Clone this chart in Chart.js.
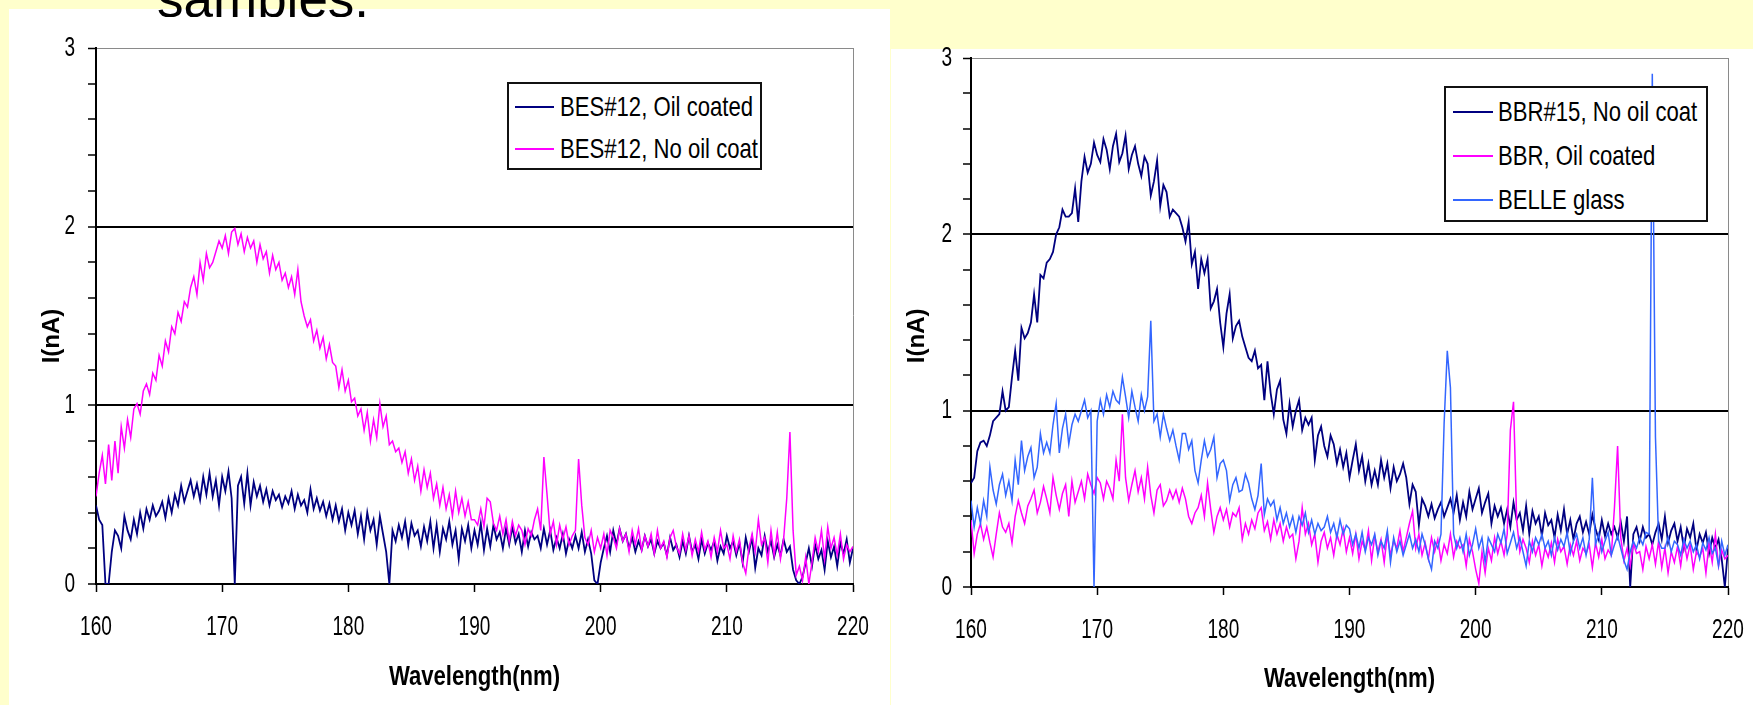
<!DOCTYPE html>
<html><head><meta charset="utf-8">
<script src="https://cdn.jsdelivr.net/npm/chart.js@4.4.1/dist/chart.umd.min.js"></script>
<style>
html,body{margin:0;padding:0;}
body{width:1753px;height:705px;overflow:hidden;background:#FFFFCC;position:relative;font-family:"Liberation Sans",Arial,sans-serif;}
.panel{position:absolute;background:#fff;}
#pL{left:9px;top:9px;width:881px;height:696px;}
#pR{left:891px;top:49px;width:862px;height:656px;}
canvas{position:absolute;}
#capWrap{position:absolute;left:0;top:0;width:900px;height:17px;overflow:hidden;z-index:5;}
#cap{position:absolute;left:157px;top:-32px;font-size:53px;line-height:61px;color:#000;white-space:nowrap;}
.legend{position:absolute;border:2px solid #111;background:#fff;box-sizing:border-box;z-index:4;}
.lline{position:absolute;height:0;border-top:2px solid;}
.ltxt{position:absolute;font-size:28px;line-height:30px;white-space:nowrap;transform-origin:0 50%;transform:scaleX(0.79);color:#000;}
</style>
</head><body>
<div id="pL" class="panel"></div>
<div id="pR" class="panel"></div>
<canvas id="cL"></canvas>
<canvas id="cR"></canvas>
<div id="legL" class="legend"></div>
<div id="legR" class="legend"></div>
<div id="capWrap"><div id="cap">samples.</div></div>
<script>
// ---------- data ----------
const xTicks = [160, 170, 180, 190, 200, 210, 220];
const yTicks = [0, 1, 2, 3];
const xTitle = 'Wavelength(nm)';
const yTitle = 'I(nA)';
const wlStart = 160, wlStep = 0.25, wlCount = 241;
const wavelengths = Array.from({length: wlCount}, (_, i) => wlStart + i * wlStep);

const leftLabels = ['BES#12, Oil coated', 'BES#12, No oil coat'];
const rightLabels = ['BBR#15, No oil coat', 'BBR, Oil coated', 'BELLE glass'];

const besOilCoated = [
0.44,0.36,0.33,0.00, 0.00,0.18,0.30,0.27, 0.20,0.38,0.30,0.25, 0.36,0.28,0.40,0.31,
0.42,0.36,0.44,0.38, 0.41,0.46,0.37,0.48, 0.40,0.50,0.44,0.55, 0.46,0.52,0.58,0.49,
0.56,0.47,0.60,0.50, 0.62,0.49,0.58,0.44, 0.60,0.52,0.63,0.48, 0.00,0.55,0.60,0.45,
0.62,0.44,0.57,0.49, 0.55,0.46,0.53,0.44, 0.52,0.47,0.50,0.43, 0.49,0.45,0.52,0.42,
0.50,0.44,0.47,0.40, 0.53,0.42,0.48,0.41, 0.46,0.38,0.45,0.36, 0.44,0.35,0.42,0.30,
0.40,0.33,0.41,0.28, 0.38,0.25,0.40,0.30, 0.36,0.22,0.38,0.28, 0.18,0.00,0.30,0.24,
0.33,0.26,0.35,0.22, 0.34,0.27,0.30,0.21, 0.32,0.24,0.35,0.20, 0.33,0.18,0.31,0.25,
0.35,0.22,0.30,0.14, 0.31,0.24,0.33,0.20, 0.30,0.22,0.34,0.19, 0.31,0.21,0.33,0.25,
0.29,0.20,0.31,0.22, 0.32,0.23,0.28,0.18, 0.30,0.21,0.29,0.25, 0.27,0.20,0.31,0.22,
0.30,0.19,0.26,0.20, 0.28,0.17,0.25,0.20, 0.27,0.20,0.29,0.18, 0.25,0.17,0.02,0.00,
0.12,0.20,0.27,0.18, 0.30,0.22,0.31,0.24, 0.28,0.20,0.26,0.18, 0.24,0.19,0.27,0.21,
0.25,0.17,0.24,0.20, 0.23,0.16,0.26,0.19, 0.22,0.15,0.24,0.17, 0.27,0.18,0.22,0.14,
0.25,0.17,0.23,0.19, 0.24,0.13,0.21,0.17, 0.27,0.20,0.24,0.16, 0.23,0.12,0.26,0.18,
0.26,0.09,0.20,0.16, 0.27,0.18,0.24,0.15, 0.22,0.16,0.25,0.18, 0.21,0.08,0.02,0.00,
0.04,0.12,0.20,0.10, 0.22,0.14,0.19,0.08, 0.24,0.15,0.21,0.10, 0.23,0.17,0.25,0.12,
0.20];

const besNoOil = [
0.49,0.62,0.72,0.56, 0.78,0.58,0.80,0.62, 0.88,0.76,0.92,0.82, 0.98,1.01,0.95,1.08,
1.12,1.06,1.18,1.14, 1.28,1.22,1.36,1.30, 1.44,1.40,1.52,1.47, 1.58,1.55,1.66,1.72,
1.62,1.80,1.70,1.85, 1.77,1.80,1.86,1.92, 1.88,1.95,1.85,1.97, 1.99,1.90,1.96,1.86,
1.94,1.88,1.92,1.80, 1.90,1.82,1.86,1.74, 1.84,1.76,1.80,1.70, 1.74,1.66,1.72,1.62,
1.76,1.58,1.50,1.44, 1.48,1.36,1.42,1.32, 1.38,1.26,1.34,1.24, 1.22,1.10,1.20,1.08,
1.14,1.02,1.04,0.94, 0.98,0.86,0.96,0.80, 0.92,0.82,1.01,0.88, 0.94,0.78,0.80,0.74,
0.76,0.68,0.74,0.62, 0.70,0.58,0.66,0.52, 0.64,0.54,0.62,0.48, 0.56,0.44,0.54,0.42,
0.50,0.38,0.52,0.40, 0.48,0.38,0.46,0.36, 0.36,0.33,0.42,0.32, 0.48,0.46,0.34,0.30,
0.38,0.28,0.36,0.24, 0.35,0.27,0.33,0.30, 0.22,0.31,0.27,0.36, 0.42,0.30,0.71,0.50,
0.28,0.35,0.22,0.33, 0.25,0.32,0.22,0.27, 0.30,0.70,0.44,0.26, 0.22,0.30,0.18,0.26,
0.20,0.28,0.16,0.30, 0.26,0.20,0.31,0.24, 0.28,0.18,0.30,0.22, 0.31,0.19,0.27,0.21,
0.28,0.17,0.30,0.20, 0.24,0.15,0.26,0.30, 0.21,0.17,0.28,0.19, 0.27,0.16,0.25,0.18,
0.29,0.19,0.24,0.15, 0.26,0.18,0.30,0.20, 0.22,0.14,0.27,0.18, 0.25,0.12,0.06,0.20,
0.28,0.18,0.36,0.22, 0.26,0.12,0.30,0.16, 0.29,0.14,0.25,0.48, 0.85,0.30,0.05,0.10,
0.02,0.15,0.00,0.12, 0.26,0.18,0.30,0.14, 0.32,0.20,0.26,0.16, 0.28,0.14,0.22,0.18,
0.21];

const bbrNoOil = [
0.59,0.62,0.77,0.82, 0.83,0.80,0.86,0.94, 0.96,0.98,1.11,1.00, 1.02,1.19,1.34,1.17,
1.47,1.41,1.44,1.50, 1.66,1.50,1.77,1.75, 1.84,1.86,1.90,2.00, 2.04,2.14,2.10,2.10,
2.12,2.26,2.07,2.30, 2.44,2.35,2.40,2.52, 2.45,2.41,2.54,2.48, 2.37,2.50,2.57,2.41,
2.46,2.56,2.37,2.45, 2.50,2.40,2.33,2.44, 2.40,2.22,2.30,2.42, 2.16,2.28,2.24,2.10,
2.14,2.12,2.10,2.04, 1.96,2.07,1.83,1.90, 1.69,1.86,1.78,1.86, 1.58,1.62,1.69,1.50,
1.36,1.55,1.66,1.41, 1.48,1.51,1.42,1.36, 1.30,1.28,1.34,1.24, 1.26,1.06,1.28,1.10,
0.98,1.12,1.17,0.95, 0.87,1.04,0.91,1.00, 1.06,0.89,0.96,0.92, 0.96,0.72,0.86,0.91,
0.80,0.74,0.86,0.81, 0.70,0.78,0.68,0.76, 0.62,0.72,0.81,0.66, 0.74,0.60,0.70,0.58,
0.66,0.58,0.72,0.62, 0.70,0.56,0.68,0.60, 0.64,0.70,0.62,0.47, 0.58,0.54,0.35,0.50,
0.46,0.40,0.47,0.39, 0.44,0.48,0.40,0.45, 0.50,0.42,0.52,0.38, 0.48,0.40,0.54,0.44,
0.50,0.56,0.42,0.48, 0.53,0.36,0.46,0.40, 0.45,0.36,0.44,0.34, 0.48,0.38,0.42,0.32,
0.46,0.30,0.43,0.36, 0.40,0.29,0.42,0.35, 0.38,0.28,0.41,0.32, 0.44,0.30,0.38,0.27,
0.36,0.40,0.31,0.37, 0.30,0.41,0.33,0.27, 0.38,0.29,0.36,0.30, 0.34,0.28,0.37,0.26,
0.40,0.00,0.30,0.34, 0.26,0.34,0.28,0.30, 0.24,0.31,0.36,0.27, 0.40,0.25,0.32,0.36,
0.26,0.34,0.22,0.33, 0.28,0.36,0.21,0.30, 0.25,0.31,0.19,0.28, 0.22,0.27,0.16,0.00,
0.22];

const bbrOilCoated = [
0.38,0.19,0.30,0.36, 0.27,0.34,0.25,0.17, 0.30,0.42,0.34,0.31, 0.36,0.25,0.40,0.49,
0.42,0.36,0.46,0.50, 0.55,0.42,0.48,0.57, 0.50,0.42,0.62,0.52, 0.44,0.53,0.58,0.40,
0.60,0.48,0.54,0.60, 0.50,0.64,0.58,0.53, 0.62,0.59,0.50,0.60, 0.56,0.50,0.72,0.60,
0.98,0.62,0.49,0.58, 0.66,0.54,0.62,0.50, 0.68,0.52,0.42,0.55, 0.58,0.46,0.49,0.55,
0.50,0.55,0.48,0.56, 0.50,0.40,0.36,0.42, 0.45,0.52,0.40,0.59, 0.44,0.31,0.40,0.45,
0.38,0.44,0.34,0.42, 0.40,0.45,0.27,0.36, 0.30,0.38,0.33,0.42, 0.45,0.32,0.37,0.27,
0.38,0.30,0.36,0.26, 0.34,0.28,0.30,0.16, 0.26,0.45,0.30,0.36, 0.24,0.30,0.14,0.26,
0.31,0.22,0.28,0.18, 0.30,0.24,0.33,0.20, 0.28,0.19,0.30,0.16, 0.26,0.21,0.32,0.15,
0.29,0.20,0.27,0.14, 0.30,0.18,0.26,0.22, 0.32,0.20,0.28,0.36, 0.43,0.22,0.30,0.18,
0.25,0.16,0.28,0.20, 0.27,0.15,0.24,0.19, 0.30,0.17,0.26,0.22, 0.24,0.12,0.27,0.20,
0.10,0.02,0.20,0.08, 0.22,0.15,0.28,0.19, 0.26,0.18,0.30,0.89, 1.05,0.38,0.20,0.27,
0.22,0.14,0.26,0.18, 0.24,0.12,0.22,0.17, 0.25,0.14,0.27,0.20, 0.23,0.13,0.24,0.18,
0.26,0.15,0.22,0.19, 0.24,0.11,0.25,0.17, 0.27,0.16,0.21,0.18, 0.45,0.80,0.28,0.15,
0.22,0.12,0.25,0.19, 0.20,0.10,0.23,0.16, 0.24,0.13,0.26,0.11, 0.22,0.08,0.20,0.14,
0.23,0.12,0.26,0.16, 0.24,0.10,0.20,0.17, 0.22,0.08,0.25,0.14, 0.30,0.12,0.21,0.16,
0.18];

const belleGlass = [
0.49,0.34,0.45,0.36, 0.49,0.40,0.68,0.55, 0.47,0.58,0.64,0.52, 0.60,0.49,0.72,0.58,
0.83,0.66,0.74,0.79, 0.62,0.68,0.87,0.76, 0.82,0.76,0.92,1.04, 0.76,0.90,0.98,0.81,
0.92,0.98,0.94,1.00, 1.06,0.96,1.00,0.00, 0.94,1.06,0.98,1.09, 1.02,1.11,1.06,1.04,
1.19,1.08,0.96,1.11, 1.02,0.94,1.09,1.00, 1.08,1.51,0.94,0.98, 0.85,0.98,0.90,0.83,
0.89,0.80,0.72,0.87, 0.87,0.78,0.83,0.66, 0.59,0.72,0.83,0.74, 0.78,0.85,0.62,0.70,
0.72,0.66,0.49,0.58, 0.62,0.54,0.55,0.64, 0.59,0.50,0.44,0.52, 0.70,0.41,0.50,0.46,
0.49,0.38,0.45,0.36, 0.42,0.34,0.40,0.31, 0.40,0.35,0.42,0.31, 0.38,0.30,0.36,0.32,
0.34,0.40,0.31,0.36, 0.28,0.38,0.30,0.35, 0.33,0.24,0.30,0.22, 0.31,0.20,0.28,0.24,
0.30,0.18,0.26,0.22, 0.32,0.14,0.28,0.20, 0.26,0.18,0.24,0.30, 0.22,0.27,0.20,0.30,
0.24,0.16,0.10,0.26, 0.22,0.30,0.93,1.34, 1.13,0.30,0.22,0.28, 0.20,0.30,0.18,0.24,
0.33,0.22,0.28,0.14, 0.28,0.24,0.20,0.30, 0.25,0.33,0.19,0.25, 0.31,0.22,0.28,0.20,
0.12,0.26,0.20,0.28, 0.24,0.30,0.22,0.26, 0.18,0.28,0.21,0.27, 0.23,0.31,0.19,0.26,
0.30,0.22,0.28,0.18, 0.27,0.62,0.24,0.30, 0.20,0.26,0.31,0.18, 0.24,0.29,0.22,0.15,
0.10,0.20,0.26,0.22, 0.28,0.24,0.31,0.30, 2.91,0.85,0.26,0.22, 0.22,0.28,0.20,0.26,
0.24,0.18,0.27,0.22, 0.26,0.20,0.24,0.16, 0.25,0.21,0.28,0.19, 0.22,0.12,0.26,0.18,
0.24];

// ---------- styling ----------
const FAM = '"Liberation Sans", Arial, sans-serif';
const TICK = 28, XTITLE = 28, YTITLE = 24;
const SX_TICK = 0.68, SX_TITLE = 0.79;
const NAVY = '#000080', MAGENTA = '#FF00FF', BLUE = '#3366FF';
const isInt = v => Math.abs(v - Math.round(v)) < 1e-6;

// horizontal text on the chart canvases is drawn condensed (like the narrow font of the original)
function condenseText(ctx) {
  const orig = ctx.fillText.bind(ctx);
  ctx.fillText = function (text, x, y, maxWidth) {
    const m = ctx.getTransform();
    if (Math.abs(m.b) > 1e-6 || Math.abs(m.c) > 1e-6) {
      return maxWidth === undefined ? orig(text, x, y) : orig(text, x, y, maxWidth);
    }
    const sx = /bold/.test(ctx.font) ? SX_TITLE : SX_TICK;
    ctx.save();
    ctx.translate(x, y);
    ctx.scale(sx, 1);
    orig(text, 0, 0);
    ctx.restore();
  };
}

function series(vals) { return vals.map((v, i) => ({x: wavelengths[i], y: v})); }

function makeChart(id, g, datasets) {
  const cv = document.getElementById(id);
  cv.width = g.W; cv.height = g.H;
  cv.style.left = g.px + 'px'; cv.style.top = g.py + 'px';
  cv.style.width = g.W + 'px'; cv.style.height = g.H + 'px';
  condenseText(cv.getContext('2d'));
  const xlh = XTITLE * 1.2, ylh = YTITLE * 1.2;
  const yMax = yTicks[yTicks.length - 1];
  return new Chart(cv, {
    type: 'line',
    data: {datasets},
    options: {
      responsive: false, animation: false, devicePixelRatio: 1,
      layout: {padding: {left: 0, top: g.top, right: g.W - g.right, bottom: 0}},
      plugins: {legend: {display: false}, tooltip: {enabled: false}},
      elements: {point: {radius: 0}, line: {tension: 0}},
      scales: {
        x: {
          type: 'linear', min: xTicks[0], max: xTicks[xTicks.length - 1],
          afterFit: s => { s.height = g.H - g.bottom; s.paddingLeft = 0; s.paddingRight = 0; },
          afterBuildTicks: s => { s.ticks = xTicks.map(v => ({value: v})); },
          ticks: {autoSkip: false, maxRotation: 0, padding: g.xTickPad, color: '#000',
                  font: {family: FAM, size: TICK}, callback: v => String(v)},
          grid: {drawTicks: true, tickLength: 8, tickWidth: 1.5, tickColor: '#000',
                 color: c => (c.tick && c.tick.value === xTicks[xTicks.length - 1]) ? '#8a8a8a' : 'rgba(0,0,0,0)',
                 lineWidth: 1},
          border: {display: true, color: '#000', width: 2},
          title: {display: true, text: xTitle, color: '#000',
                  font: {family: FAM, size: XTITLE, weight: 'bold'},
                  padding: {top: 0, bottom: g.H - g.xTitleY - xlh / 2}}
        },
        y: {
          type: 'linear', min: yTicks[0], max: yMax,
          afterFit: s => { s.width = g.left; s.paddingTop = 0; s.paddingBottom = 0; },
          ticks: {stepSize: 0.2, autoSkip: false, maxTicksLimit: 1000, padding: g.yTickPad, color: '#000',
                  font: {family: FAM, size: TICK},
                  callback: v => isInt(v) ? String(Math.round(v)) : ''},
          grid: {drawTicks: true, tickLength: 8, tickWidth: 1.5, tickColor: '#000',
                 color: c => {
                   const v = c.tick ? c.tick.value : 0;
                   if (Math.abs(v - yMax) < 1e-6) return '#8a8a8a';
                   if (isInt(v) && v > 0) return '#000';
                   return 'rgba(0,0,0,0)';
                 },
                 lineWidth: c => (c.tick && Math.abs(c.tick.value - yMax) < 1e-6) ? 1 : 2},
          border: {display: true, color: '#000', width: 2},
          title: {display: true, text: yTitle + '\u00A0'.repeat(g.yTitleShift), color: '#000',
                  font: {family: FAM, size: YTITLE, weight: 'bold'},
                  padding: {top: g.yTitleX - ylh / 2, bottom: 0}}
        }
      }
    }
  });
}

function buildLegend(id, chart, b) {
  const el = document.getElementById(id);
  el.style.left = b.x + 'px'; el.style.top = b.y + 'px';
  el.style.width = b.w + 'px'; el.style.height = b.h + 'px';
  chart.data.datasets.forEach((ds, i) => {
    const cy = b.rows[i];
    const ln = document.createElement('div'); ln.className = 'lline';
    ln.style.left = b.lineX + 'px'; ln.style.width = b.lineW + 'px';
    ln.style.top = (cy - 1) + 'px'; ln.style.borderTopColor = ds.borderColor;
    const t = document.createElement('div'); t.className = 'ltxt';
    t.textContent = ds.label;
    t.style.left = b.textX + 'px'; t.style.top = (cy - 15) + 'px';
    el.appendChild(ln); el.appendChild(t);
  });
}

const chartL = makeChart('cL',
  {px: 9, py: 9, W: 881, H: 696, left: 87, top: 39, right: 844, bottom: 575,
   xTickPad: 18, yTickPad: 13, xTitleY: 668, yTitleX: 43, yTitleShift: 6},
  [
    {label: leftLabels[0], data: series(besOilCoated), borderColor: NAVY, borderWidth: 1.8, order: 0},
    {label: leftLabels[1], data: series(besNoOil), borderColor: MAGENTA, borderWidth: 1.5, order: -1}
  ]);

const chartR = makeChart('cR',
  {px: 890, py: 27, W: 863, H: 678, left: 81, top: 31, right: 838, bottom: 560,
   xTickPad: 18, yTickPad: 11, xTitleY: 652, yTitleX: 27, yTitleShift: 4},
  [
    {label: rightLabels[0], data: series(bbrNoOil), borderColor: NAVY, borderWidth: 1.8, order: 0},
    {label: rightLabels[1], data: series(bbrOilCoated), borderColor: MAGENTA, borderWidth: 1.5, order: -1},
    {label: rightLabels[2], data: series(belleGlass), borderColor: BLUE, borderWidth: 1.5, order: -2}
  ]);

buildLegend('legL', chartL, {x: 507, y: 82, w: 255, h: 88, rows: [23, 65], lineX: 6, lineW: 39, textX: 51});
buildLegend('legR', chartR, {x: 1444, y: 86, w: 264, h: 136, rows: [24, 68, 112], lineX: 7, lineW: 40, textX: 52});
</script>
</body></html>
